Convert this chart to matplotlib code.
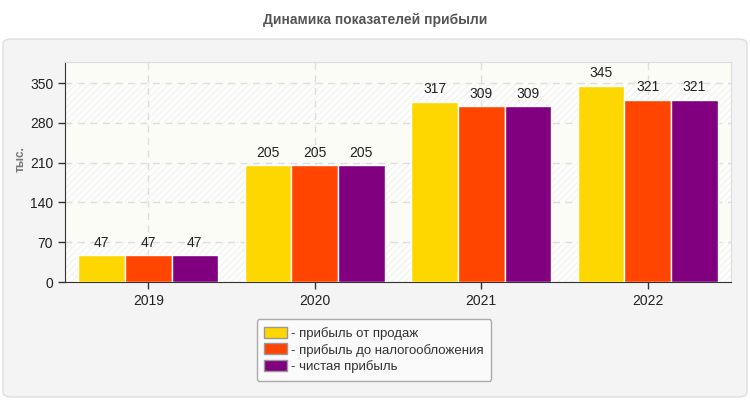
import numpy as np
import matplotlib.pyplot as plt
from matplotlib.patches import FancyBboxPatch

plt.rcParams['font.family'] = ['Liberation Sans', 'DejaVu Sans']
plt.rcParams['hatch.linewidth'] = 0.6

years = ["2019", "2020", "2021", "2022"]
series_names = ["прибыль от продаж", "прибыль до налогообложения", "чистая прибыль"]
sales = [47, 205, 317, 345]
pretax = [47, 205, 309, 321]
net = [47, 205, 309, 321]
colors = ["#ffd700", "#ff4500", "#800080"]
yticks = [0, 70, 140, 210, 280, 350]

fig = plt.figure(figsize=(7.5, 4), dpi=100)
fig.patch.set_facecolor("white")

# grey rounded panel behind the chart
panel = FancyBboxPatch((3 / 750, 3 / 400), 744 / 750, 358 / 400,
                       boxstyle="round,pad=0,rounding_size=0.012",
                       transform=fig.transFigure, facecolor="#f4f4f4",
                       edgecolor="#dedede", linewidth=1, zorder=-5)
fig.patches.append(panel)

fig.text(0.5, 0.95, "Динамика показателей прибыли", ha="center", va="center",
         fontsize=10, fontweight="bold", color="#555555")

ax = fig.add_axes([65 / 750, 118 / 400, 666 / 750, 220 / 400])
ax.set_facecolor("#fcfcf6")
ymax = 387
ax.set_ylim(0, ymax)
ax.set_xlim(-0.5, len(years) - 0.5)

# alternating bands
bounds = yticks + [ymax]
for i in range(len(bounds) - 1):
    if i % 2 == 0:
        ax.axhspan(bounds[i], bounds[i + 1], facecolor="#fdfdfb", edgecolor="#eeeeee",
                   hatch="/////", linewidth=0, zorder=0)

x = np.arange(len(years))
w = 0.28
for k, (vals, name, c) in enumerate(zip([sales, pretax, net], series_names, colors)):
    bars = ax.bar(x + (k - 1) * w, vals, w, color=c, edgecolor="white", linewidth=1,
                  label="- " + name, zorder=3)
    for b, v in zip(bars, vals):
        ax.annotate(str(v), (b.get_x() + b.get_width() / 2, v), xytext=(0, 4),
                    textcoords="offset points", ha="center", va="bottom",
                    fontsize=10, color="#222222", zorder=4)

ax.set_yticks(yticks)
ax.set_xticks(x)
ax.set_xticklabels(years)
ax.tick_params(axis="both", labelsize=10, colors="#333333", length=5, width=1)
ax.tick_params(axis="both", labelcolor="#222222")
ax.grid(True, color="#dddddd", linestyle=(0, (5, 4)), linewidth=1, zorder=1)
ax.set_axisbelow(True)
for s in ["top", "right"]:
    ax.spines[s].set_color("#dddddd")
for s in ["left", "bottom"]:
    ax.spines[s].set_color("#333333")
ax.set_ylabel("тыс.", fontsize=8.5, fontweight="bold", color="#777777")
ax.yaxis.set_label_coords(-0.057, 0.56)

leg = fig.legend(loc="center", bbox_to_anchor=(374 / 750, 50 / 400), ncol=1,
                 fontsize=9.5, frameon=True, handlelength=1.7, handleheight=0.9,
                 handletextpad=0.3, labelspacing=0.25, borderpad=0.6,
                 fancybox=True, edgecolor="#aaaaaa", facecolor="#fafafa", framealpha=1)
for h in leg.legend_handles:
    h.set_edgecolor("#999999")
for t in leg.get_texts():
    t.set_color("#333333")

fig.savefig("out.png", dpi=100)
